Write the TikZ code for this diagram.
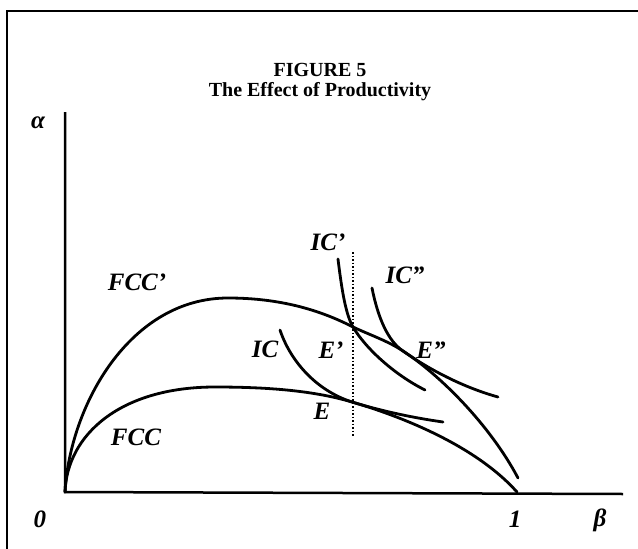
\documentclass[tikz,border=0pt]{standalone}
\usepackage{fontspec}
\setmainfont{Liberation Serif}

\begin{document}
\begin{tikzpicture}[x=1pt, y=-1pt,
	every node/.style={font=\fontsize{25}{28}\selectfont\bfseries\itshape, inner sep=0pt},
	titletext/.style={font=\fontsize{20}{23}\selectfont\bfseries},
	curve/.style={line width=2.8pt, line cap=round},
	axis/.style={line width=2.5pt}]
	\useasboundingbox (0,0) rectangle (638,549);
	\draw[line width=1.8pt] (638,11) -- (7,11) -- (7,549);
	\node[titletext] (fig) at (320,70) {FIGURE 5};
	\node[titletext] (sub) at (320,92) {The Effect of Productivity};
	\coordinate (O) at (65,492);
	\coordinate (ytop) at (65,112);
	\coordinate (xend) at (623,494);
	\coordinate (one) at (517,492);
	\coordinate (Fpk) at (215,387);
	\coordinate (Gpk) at (228,298);
	\coordinate (E) at (352,402);
	\coordinate (Ep) at (353,327);
	\coordinate (Epp) at (403,351);
	\coordinate (Gend) at (518,478);
	\coordinate (ICs) at (280,330);
	\coordinate (ICe) at (443,422);
	\coordinate (ICps) at (338,259);
	\coordinate (ICpe) at (425,390);
	\coordinate (ICpps) at (372,288);
	\coordinate (ICppe) at (498,397);
	\coordinate (dtop) at (353,252);
	\coordinate (dbot) at (353,436);
	\draw[axis] (ytop) -- (O) -- (xend);
	\draw[line width=1.5pt, dotted] (dtop) -- (dbot);
	\draw[curve] (O) .. controls (67,435) and (120,387) .. (Fpk) .. controls (270,387) and (315,391) .. (E) .. controls (400,416) and (475,445) .. (one);
	\draw[curve] (O) .. controls (70,405) and (130,298) .. (Gpk) .. controls (280,298) and (320,310) .. (Ep) .. controls (370,335) and (388,341) .. (Epp) .. controls (440,375) and (490,425) .. (Gend);
	\draw[curve] (ICs) .. controls (290,360) and (315,390) .. (E) .. controls (385,412) and (415,418) .. (ICe);
	\draw[curve] (ICps) .. controls (342,292) and (346,315) .. (Ep) .. controls (366,349) and (395,375) .. (ICpe);
	\draw[curve] (ICpps) .. controls (378,318) and (388,341) .. (Epp) .. controls (420,363) and (455,385) .. (ICppe);
	\node (alpha) at (38,123) {α};
	\node (beta) at (600,520) {β};
	\node (zero) at (40,519) {0};
	\node (unit) at (515,519) {1};
	\node (fccp) at (137,282) {FCC’};
	\node (fcc) at (136,437) {FCC};
	\node (icp) at (328,242) {IC’};
	\node (icpp) at (405,275) {IC”};
	\node (ic) at (265,349) {IC};
	\node (ep) at (331,350) {E’};
	\node (epp) at (431,350) {E”};
	\node (e) at (322,411) {E};
\end{tikzpicture}
\end{document}
